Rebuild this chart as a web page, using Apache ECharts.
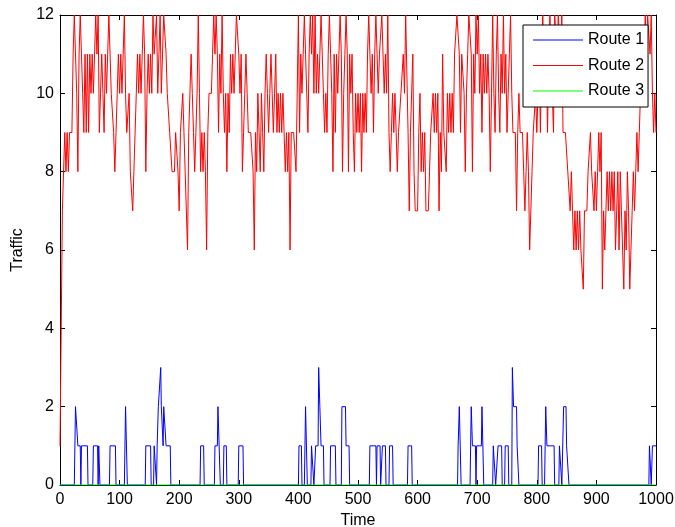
<!DOCTYPE html>
<html>
<head>
<meta charset="utf-8">
<script src="https://cdn.jsdelivr.net/npm/echarts@6/dist/echarts.min.js"></script>
<style>
html,body{margin:0;padding:0;background:#fff;overflow:hidden;}
#chart{width:675px;height:527px;}
</style>
</head>
<body>
<div id="chart"></div>
<script>
// Axis ticks
var xTicks = [0, 100, 200, 300, 400, 500, 600, 700, 800, 900, 1000];
var yTicks = [0, 2, 4, 6, 8, 10, 12];
var seriesNames = ['Route 1', 'Route 2', 'Route 3'];

// Route 2 (red): values read at every 2 time units, from t = 0 to t = 1000
var redTimeStep = 2;
var redValues = [
  1,4,7,8,9,8,9,8,9,9,9,11,12,12,10,8,11,12,11,10,
  9,11,9,11,9,11,10,11,10,11,
  12,11,12,9,10,11,10,9,11,10,
  11,12,11,10,10,9,8,9,10,11,
  10,11,10,11,12,10,9,9,10,8,
  8,7,8,8,10,11,10,11,10,11,
  12,11,8,10,11,10,11,10,12,11,
  11,12,10,
  11,12,10,11,12,12,11,
  10,10,9,9,8,8,8,9,9,8,
  7,9,9,10,9,8,8,6,9,10,
  11,10,9,8,9,10,12,10,8,9,
  8,9,8,6,9,10,10,10,11,12,
  11,12,11,9,11,10,12,10,9,10,
  8,10,9,11,10,11,10,11,12,12,
  11,10,11,8,9,10,11,10,9,9,
  9,9,8,6,9,8,
  10,9,8,10,9,8,10,11,10,9,
  10,11,10,9,10,11,9,10,9,10,
  9,10,9,8,9,8,9,6,9,9,
  9,9,8,10,12,9,11,10,11,12,
  11,10,9,11,12,11,12,10,12,10,
  11,10,11,12,11,10,9,10,9,11,
  12,11,10,8,11,9,11,10,11,12,
  11,8,10,11,12,11,8,11,10,11,
  9,8,10,9,
  10,9,10,8,10,9,10,9,11,12,
  11,10,11,9,11,12,11,10,11,11,
  12,11,10,11,10,12,9,8,9,10,
  9,10,9,8,9,9,10,10,11,10,
  12,12,9,7,9,9,11,8,7,7,
  7,9,10,8,9,8,9,7,7,7,
  8,9,9,10,9,10,9,10,7,9,
  8,11,9,9,8,10,9,10,9,10,
  9,11,11,12,
  12,11,9,11,11,10,8,10,11,12,
  12,11,8,11,10,12,11,12,10,11,
  9,11,10,11,10,11,10,8,10,12,
  10,9,11,12,10,9,11,10,12,10,
  11,9,10,11,12,10,9,9,9,7,
  9,10,9,9,9,8,7,8,9,8,
  6,7,8,9,9,10,9,10,11,9,
  11,12,11,10,11,9,11,12,11,10,
  9,12,
  12,11,12,12,11,12,9,9,9,9,
  8,8,7,8,7,6,7,6,7,6,
  7,6,6,5,7,7,7,8,8,9,
  8,8,7,8,7,8,9,8,9,5,
  7,6,7,8,7,8,7,8,7,8,
  6,7,8,6,8,7,6,5,7,6,
  8,7,5,6,7,8,7,8,9,8,
  9,10,11,10,11,12,11,12,12,11,
  12,10,9,10,9
];

// Route 1 (blue): [time, traffic] breakpoints
var bluePoints = [
  [0,0],[24,0],[25,1],[26,2],[29,2],[30,1],[34,1],[35,0],[36,1],[46,1],[47,0],
  [55,0],[56,1],[63,1],[64,0],[65,1],[66,1],[67,0],
  [83,0],[84,1],[93,1],[94,0],
  [108,0],[109,1],[110,2],[112,2],[113,0],
  [143,0],[144,1],[152,1],[153,0],
  [157,0],[158,1],[161,1],[162,0],[163,1],[165,2],[168,2],[169,3],[170,2],[172,2],[173,1],[174,2],[177,2],[178,1],[185,1],[186,0],
  [235,0],[236,1],[241,1],[242,0],
  [259,0],[260,1],[264,1],[265,2],[268,2],[269,0],
  [274,0],[275,1],[279,1],[280,0],
  [299,0],[300,1],[307,1],[308,0],
  [400,0],[401,1],[405,1],[406,0],
  [410,0],[411,1],[412,2],[414,2],[415,0],
  [421,0],[422,1],[425,1],[426,0],
  [428,0],[429,1],[433,1],[434,3],[435,3],[436,2],[437,2],[438,1],[442,1],[443,0],
  [453,0],[454,1],[462,1],[463,0],
  [472,0],[473,2],[479,2],[480,1],[485,1],[486,0],
  [519,0],[520,1],[530,1],[531,0],[532,1],[537,1],[538,0],
  [540,0],[541,1],[546,1],[547,0],
  [552,0],[553,1],[558,1],[559,0],
  [583,0],[584,1],[590,1],[591,0],
  [667,0],[668,1],[670,2],[672,2],[673,0],
  [688,0],[689,1],[690,2],[691,2],[692,1],[697,1],[698,0],[699,1],[707,1],[708,2],[710,2],[711,0],
  [726,0],[727,1],[730,1],[731,0],
  [734,0],[735,1],[741,1],[742,0],
  [746,0],[747,1],[752,1],[753,0],
  [758,0],[759,3],[760,3],[761,2],[766,2],[767,1],[769,1],[770,0],
  [802,0],[803,1],[808,1],[809,0],
  [813,0],[814,1],[815,2],[816,2],[817,1],[829,1],[830,0],
  [837,0],[838,1],[841,1],[842,0],
  [844,0],[845,2],[849,2],[850,1],[853,1],[854,0],
  [988,0],[989,1],[991,1],[992,0],[994,1],[1000,1]
];

// Route 3 (green): zero throughout
var greenTimes = [0, 1000];
var greenValues = [0, 0];

var redData = redValues.map(function (v, i) { return [i * redTimeStep, v]; });
var greenData = greenTimes.map(function (t, i) { return [t, greenValues[i]]; });

var FONT = "'Liberation Sans', Arial, Helvetica, sans-serif";
var chart = echarts.init(document.getElementById('chart'), null, {renderer: 'canvas', width: 675, height: 527});

function boxAxis(pos, isX) {
  return {
    type: 'value',
    position: pos,
    min: isX ? xTicks[0] : yTicks[0],
    max: isX ? xTicks[xTicks.length - 1] : yTicks[yTicks.length - 1],
    interval: isX ? xTicks[1] - xTicks[0] : yTicks[1] - yTicks[0],
    axisLine: {show: true, onZero: false, lineStyle: {color: '#000', width: 1}},
    axisTick: {show: true, inside: true, length: 5, lineStyle: {color: '#000', width: 1}},
    axisLabel: {show: false},
    splitLine: {show: false}
  };
}

var xMain = boxAxis('bottom', true);
xMain.axisLabel = {show: true, color: '#000', fontSize: 16, fontFamily: FONT, margin: 7,
  formatter: function (v) { return String(v); }};
xMain.name = 'Time';
xMain.nameLocation = 'middle';
xMain.nameGap = 24;
xMain.nameTextStyle = {color: '#000', fontSize: 16, fontFamily: FONT};

var yMain = boxAxis('left', false);
yMain.axisLabel = {show: true, color: '#000', fontSize: 16, fontFamily: FONT, margin: 6,
  formatter: function (v) { return String(v); }};
yMain.name = 'Traffic';
yMain.nameLocation = 'middle';
yMain.nameGap = 32;
yMain.nameTextStyle = {color: '#000', fontSize: 16, fontFamily: FONT};

chart.setOption({
  animation: false,
  backgroundColor: '#fff',
  grid: {left: 60, top: 15, width: 596, height: 470, containLabel: false, outerBoundsMode: 'none'},
  legend: {
    data: seriesNames,
    orient: 'vertical',
    left: 523,
    top: 25,
    padding: [7, 4, 8, 10],
    itemGap: 9.5,
    itemWidth: 50,
    itemHeight: 1,
    icon: 'rect',
    backgroundColor: '#fff',
    borderColor: '#000',
    borderWidth: 1,
    borderRadius: 0,
    textStyle: {color: '#000', fontSize: 16, fontFamily: FONT, lineHeight: 16}
  },
  xAxis: [xMain, boxAxis('top', true)],
  yAxis: [yMain, boxAxis('right', false)],
  series: [
    {name: seriesNames[0], type: 'line', data: bluePoints, showSymbol: false, symbol: 'none',
     color: '#0000ff', lineStyle: {color: '#0000ff', width: 1}, z: 2},
    {name: seriesNames[1], type: 'line', data: redData, showSymbol: false, symbol: 'none',
     color: '#ff0000', lineStyle: {color: '#ff0000', width: 1}, z: 3},
    {name: seriesNames[2], type: 'line', data: greenData, showSymbol: false, symbol: 'none',
     color: '#00ff00', lineStyle: {color: '#00ff00', width: 1}, z: 4}
  ]
});
</script>
</body>
</html>
